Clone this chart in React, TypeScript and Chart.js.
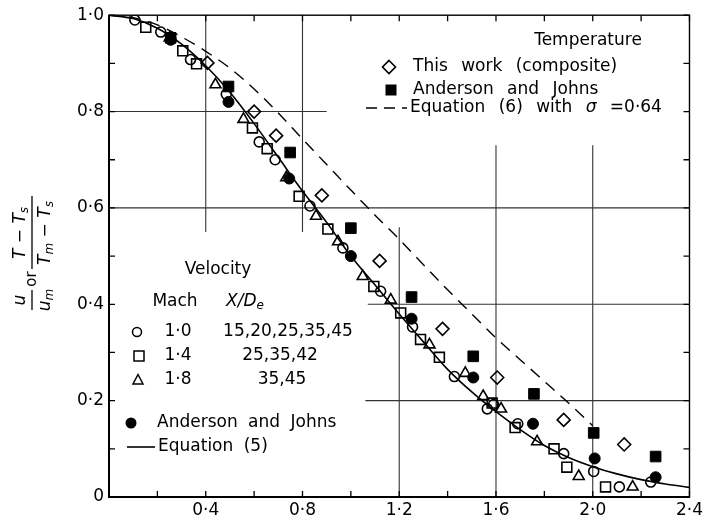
import React, { useEffect, useRef } from 'react';
import { Chart, registerables } from 'chart.js';

Chart.register(...registerables);

// ---- axis ticks ----
const xTickPositions = [0, 0.2, 0.4, 0.6, 0.8, 1.0, 1.2, 1.4, 1.6, 1.8, 2.0, 2.2, 2.4];
const xLabelValues = [0.4, 0.8, 1.2, 1.6, 2.0, 2.4];
const xLabelTexts = ['0·4', '0·8', '1·2', '1·6', '2·0', '2·4'];
const yTickPositions = [0, 0.1, 0.2, 0.3, 0.4, 0.5, 0.6, 0.7, 0.8, 0.9, 1.0];
const yLabelValues = [0, 0.2, 0.4, 0.6, 0.8, 1.0];
const yLabelTexts = ['0', '0·2', '0·4', '0·6', '0·8', '1·0'];

// ---- Equation (5), solid ----
const eq5X = [0, 0.1, 0.2, 0.3, 0.4, 0.5, 0.6, 0.7, 0.8, 0.9, 1.0, 1.1, 1.2, 1.3, 1.4, 1.5, 1.6, 1.7, 1.8, 1.9, 2.0, 2.1, 2.2, 2.3, 2.4];
const eq5Y = [1.0, 0.993, 0.973, 0.94, 0.895, 0.84, 0.775, 0.705, 0.635, 0.57, 0.5, 0.44, 0.38, 0.322, 0.265, 0.218, 0.177, 0.14, 0.107, 0.082, 0.063, 0.048, 0.036, 0.027, 0.02];

// ---- Equation (6) with sigma = 0.64, dashed ----
const eq6X = [0, 0.1, 0.2, 0.3, 0.4, 0.5, 0.6, 0.7, 0.8, 0.9, 1.0, 1.1, 1.2, 1.3, 1.4, 1.5, 1.6, 1.7, 1.8, 1.9, 2.0];
const eq6Y = [1.0, 0.995, 0.98, 0.955, 0.925, 0.89, 0.847, 0.797, 0.743, 0.69, 0.637, 0.585, 0.535, 0.482, 0.43, 0.38, 0.33, 0.285, 0.24, 0.195, 0.148];

// ---- Velocity, Mach 1.0 (open circles) ----
const mach10X = [0.107, 0.214, 0.337, 0.485, 0.621, 0.687, 0.831, 0.967, 1.123, 1.255, 1.428, 1.564, 1.59, 1.69, 1.88, 2.004, 2.11, 2.24];
const mach10Y = [0.99, 0.965, 0.908, 0.836, 0.737, 0.70, 0.604, 0.517, 0.427, 0.353, 0.25, 0.183, 0.192, 0.152, 0.09, 0.053, 0.021, 0.031];

// ---- Velocity, Mach 1.4 (open squares) ----
const mach14X = [0.152, 0.305, 0.362, 0.593, 0.654, 0.786, 0.905, 1.095, 1.206, 1.288, 1.366, 1.584, 1.679, 1.84, 1.893, 2.053];
const mach14Y = [0.975, 0.926, 0.899, 0.766, 0.723, 0.624, 0.556, 0.437, 0.382, 0.327, 0.29, 0.195, 0.144, 0.10, 0.062, 0.021];

// ---- Velocity, Mach 1.8 (open triangles) ----
const mach18X = [0.251, 0.44, 0.556, 0.733, 0.856, 0.947, 1.049, 1.165, 1.325, 1.473, 1.547, 1.621, 1.77, 1.942, 2.165];
const mach18Y = [0.953, 0.856, 0.784, 0.663, 0.583, 0.53, 0.458, 0.409, 0.316, 0.257, 0.209, 0.183, 0.115, 0.043, 0.021];

// ---- Velocity, Anderson and Johns (filled circles) ----
const ajVelX = [0.255, 0.494, 0.745, 1.0, 1.251, 1.506, 1.753, 2.008, 2.26];
const ajVelY = [0.949, 0.82, 0.661, 0.50, 0.37, 0.248, 0.152, 0.08, 0.041];

// ---- Temperature, This work (open diamonds) ----
const twX = [0.407, 0.60, 0.691, 0.88, 1.119, 1.379, 1.605, 1.88, 2.13];
const twY = [0.901, 0.80, 0.75, 0.626, 0.49, 0.349, 0.248, 0.16, 0.109];

// ---- Temperature, Anderson and Johns (filled squares) ----
const ajTempX = [0.255, 0.494, 0.749, 1.0, 1.251, 1.506, 1.757, 2.004, 2.26];
const ajTempY = [0.953, 0.852, 0.715, 0.558, 0.415, 0.292, 0.214, 0.133, 0.084];

const FF = '"DejaVu Sans", sans-serif';
const fBase = `17px ${FF}`;
const fItal = `italic 17px ${FF}`;
const fSub = `italic 12px ${FF}`;

type Run = { t: string; f: string; dy?: number };

function runsWidth(ctx: CanvasRenderingContext2D, runs: Run[]) {
  let w = 0;
  for (const r of runs) {
    ctx.font = r.f;
    w += ctx.measureText(r.t).width;
  }
  return w;
}

function drawRuns(ctx: CanvasRenderingContext2D, runs: Run[], x: number, y: number, align: 'left' | 'center' | 'right' = 'left') {
  const w = runsWidth(ctx, runs);
  let cx = align === 'center' ? x - w / 2 : align === 'right' ? x - w : x;
  ctx.textAlign = 'left';
  ctx.textBaseline = 'middle';
  for (const r of runs) {
    ctx.font = r.f;
    ctx.fillText(r.t, cx, y + (r.dy || 0));
    cx += ctx.measureText(r.t).width;
  }
}

const zip = (xs: number[], ys: number[]) => xs.map((x, i) => ({ x, y: ys[i] }));

const labelFor = (vals: number[], texts: string[], v: number) => {
  const i = vals.findIndex((a) => Math.abs(a - v) < 1e-6);
  return i >= 0 ? texts[i] : '';
};

export default function App() {
  const ref = useRef<HTMLCanvasElement>(null);

  useEffect(() => {
    const canvas = ref.current!;

    const decor = {
      id: 'decor',
      beforeDatasetsDraw(chart: any) {
        const { ctx, chartArea: a, scales } = chart;
        const sx = scales.x;
        const sy = scales.y;
        ctx.save();
        // partial grid lines (as in the hand-drawn original)
        const vGrid = [[0.4, 0.55, 1.0], [0.8, 0.55, 1.0], [1.2, 0, 0.56], [1.6, 0, 0.73], [2.0, 0, 0.73]];
        const hGrid = [[0.8, 0, 0.9], [0.6, 0, 2.4], [0.4, 1.07, 2.4], [0.2, 1.06, 2.4]];
        ctx.strokeStyle = '#333';
        ctx.lineWidth = 1.1;
        for (const [gx, y0, y1] of vGrid) {
          const px = sx.getPixelForValue(gx);
          ctx.beginPath();
          ctx.moveTo(px, sy.getPixelForValue(y0));
          ctx.lineTo(px, sy.getPixelForValue(y1));
          ctx.stroke();
        }
        for (const [gy, x0, x1] of hGrid) {
          const py = sy.getPixelForValue(gy);
          ctx.beginPath();
          ctx.moveTo(sx.getPixelForValue(x0), py);
          ctx.lineTo(sx.getPixelForValue(x1), py);
          ctx.stroke();
        }
        // inward tick marks on all four sides
        ctx.strokeStyle = '#000';
        ctx.lineWidth = 1.3;
        const tl = 6;
        for (const t of sx.ticks) {
          const px = sx.getPixelForValue(t.value);
          ctx.beginPath();
          ctx.moveTo(px, a.bottom);
          ctx.lineTo(px, a.bottom - tl);
          ctx.moveTo(px, a.top);
          ctx.lineTo(px, a.top + tl);
          ctx.stroke();
        }
        for (const t of sy.ticks) {
          const py = sy.getPixelForValue(t.value);
          ctx.beginPath();
          ctx.moveTo(a.left, py);
          ctx.lineTo(a.left + tl, py);
          ctx.moveTo(a.right, py);
          ctx.lineTo(a.right - tl, py);
          ctx.stroke();
        }
        // frame
        ctx.lineWidth = 1.4;
        ctx.strokeRect(a.left, a.top, a.right - a.left, a.bottom - a.top);
        ctx.lineWidth = 2;
        ctx.beginPath();
        ctx.moveTo(a.left, a.top);
        ctx.lineTo(a.left, a.bottom);
        ctx.lineTo(a.right, a.bottom);
        ctx.stroke();
        ctx.restore();
      },
      afterDraw(chart: any) {
        const ctx: CanvasRenderingContext2D = chart.ctx;
        ctx.save();
        ctx.fillStyle = '#000';
        ctx.strokeStyle = '#000';
        (ctx as any).wordSpacing = '8px';

        // ---- Temperature legend (top right) ----
        drawRuns(ctx, [{ t: 'Temperature', f: fBase }], 588, 41, 'center');
        // diamond
        ctx.lineWidth = 1.6;
        ctx.beginPath();
        ctx.moveTo(389, 67 - 6.5);
        ctx.lineTo(389 + 6.5, 67);
        ctx.lineTo(389, 67 + 6.5);
        ctx.lineTo(389 - 6.5, 67);
        ctx.closePath();
        ctx.stroke();
        drawRuns(ctx, [{ t: 'This work (composite)', f: fBase }], 413, 67);
        // filled square
        ctx.fillRect(391 - 5.5, 90 - 5.5, 11, 11);
        drawRuns(ctx, [{ t: 'Anderson and Johns', f: fBase }], 413, 90);
        // dashed sample
        ctx.lineWidth = 1.5;
        ctx.setLineDash([11, 7]);
        ctx.beginPath();
        ctx.moveTo(366, 108);
        ctx.lineTo(407, 108);
        ctx.stroke();
        ctx.setLineDash([]);
        drawRuns(ctx, [{ t: 'Equation (6) with ', f: fBase }, { t: 'σ', f: fItal }, { t: ' =0·64', f: fBase }], 410, 108);

        // ---- Velocity legend (left) ----
        (ctx as any).wordSpacing = '5px';
        drawRuns(ctx, [{ t: 'Velocity', f: fBase }], 218, 270, 'center');
        drawRuns(ctx, [{ t: 'Mach', f: fBase }], 175, 302, 'center');
        drawRuns(ctx, [{ t: 'X/D', f: fItal }, { t: 'e', f: fSub, dy: 4 }], 245, 302, 'center');
        ctx.lineWidth = 1.5;
        // circle
        ctx.beginPath();
        ctx.arc(137, 332, 4.5, 0, Math.PI * 2);
        ctx.stroke();
        drawRuns(ctx, [{ t: '1·0', f: fBase }], 178, 332, 'center');
        drawRuns(ctx, [{ t: '15,20,25,35,45', f: fBase }], 288, 332, 'center');
        // square
        ctx.strokeRect(139 - 5, 356 - 5, 10, 10);
        drawRuns(ctx, [{ t: '1·4', f: fBase }], 178, 356, 'center');
        drawRuns(ctx, [{ t: '25,35,42', f: fBase }], 280, 356, 'center');
        // triangle
        ctx.beginPath();
        ctx.moveTo(138, 380 - 5.5);
        ctx.lineTo(138 + 5, 380 + 4);
        ctx.lineTo(138 - 5, 380 + 4);
        ctx.closePath();
        ctx.stroke();
        drawRuns(ctx, [{ t: '1·8', f: fBase }], 178, 380, 'center');
        drawRuns(ctx, [{ t: '35,45', f: fBase }], 282, 380, 'center');
        // filled circle
        ctx.beginPath();
        ctx.arc(131, 423, 5.5, 0, Math.PI * 2);
        ctx.fill();
        drawRuns(ctx, [{ t: 'Anderson and Johns', f: fBase }], 157, 423);
        // solid line sample
        ctx.lineWidth = 1.6;
        ctx.beginPath();
        ctx.moveTo(127, 447);
        ctx.lineTo(155, 447);
        ctx.stroke();
        drawRuns(ctx, [{ t: 'Equation (5)', f: fBase }], 158, 447);

        // ---- Y axis title (rotated fractions) ----
        (ctx as any).wordSpacing = '0px';
        ctx.translate(32, 253);
        ctx.rotate(-Math.PI / 2);
        ctx.lineWidth = 1.3;
        drawRuns(ctx, [{ t: 'T − T', f: fItal }, { t: 's', f: fSub, dy: 4 }], 20, -11, 'center');
        drawRuns(ctx, [{ t: 'T', f: fItal }, { t: 'm', f: fSub, dy: 4 }, { t: ' − T', f: fItal }, { t: 's', f: fSub, dy: 4 }], 20, 14, 'center');
        ctx.beginPath();
        ctx.moveTo(-16, 0);
        ctx.lineTo(57, 0);
        ctx.stroke();
        drawRuns(ctx, [{ t: 'or', f: `15px ${FF}` }], -26, 0, 'center');
        drawRuns(ctx, [{ t: 'u', f: fItal }], -47, -11, 'center');
        drawRuns(ctx, [{ t: 'u', f: fItal }, { t: 'm', f: fSub, dy: 4 }], -47, 14, 'center');
        ctx.beginPath();
        ctx.moveTo(-57, 0);
        ctx.lineTo(-37, 0);
        ctx.stroke();
        ctx.restore();
      },
    };

    const openPts = (label: string, xs: number[], ys: number[], style: string, r: number) => ({
      label,
      data: zip(xs, ys),
      showLine: false,
      pointStyle: style,
      pointRadius: r,
      pointHoverRadius: r,
      pointBorderWidth: 1.6,
      borderColor: '#000',
      backgroundColor: 'rgba(0,0,0,0)',
      order: 1,
    });
    const filledPts = (label: string, xs: number[], ys: number[], style: string, r: number) => ({
      label,
      data: zip(xs, ys),
      showLine: false,
      pointStyle: style,
      pointRadius: r,
      pointHoverRadius: r,
      pointBorderWidth: 1,
      borderColor: '#000',
      backgroundColor: '#000',
      order: 1,
    });

    const chart = new Chart(canvas, {
      type: 'scatter',
      data: {
        datasets: [
          {
            label: 'Equation (5)',
            data: zip(eq5X, eq5Y),
            showLine: true,
            borderColor: '#000',
            borderWidth: 1.6,
            pointRadius: 0,
            cubicInterpolationMode: 'monotone',
            order: 10,
          } as any,
          {
            label: 'Equation (6) with σ = 0·64',
            data: zip(eq6X, eq6Y),
            showLine: true,
            borderColor: '#000',
            borderWidth: 1.4,
            borderDash: [12, 8],
            pointRadius: 0,
            cubicInterpolationMode: 'monotone',
            order: 10,
          } as any,
          openPts('Mach 1·0', mach10X, mach10Y, 'circle', 5),
          openPts('Mach 1·4', mach14X, mach14Y, 'rect', 7),
          openPts('Mach 1·8', mach18X, mach18Y, 'triangle', 6.3),
          openPts('This work (composite)', twX, twY, 'rectRot', 6.5),
          filledPts('Anderson and Johns (velocity)', ajVelX, ajVelY, 'circle', 5.5),
          filledPts('Anderson and Johns (temperature)', ajTempX, ajTempY, 'rect', 7.5),
        ] as any,
      },
      options: {
        animation: false,
        responsive: false,
        layout: { padding: { top: 10, right: 14, left: 0, bottom: 0 } },
        plugins: { legend: { display: false }, tooltip: { enabled: false } },
        scales: {
          x: {
            type: 'linear',
            min: 0,
            max: 2.4,
            afterBuildTicks: (s: any) => {
              s.ticks = xTickPositions.map((v) => ({ value: v }));
            },
            afterFit: (s: any) => {
              s.height = 26;
            },
            grid: { display: false, drawTicks: false },
            border: { display: false },
            ticks: {
              autoSkip: false,
              maxRotation: 0,
              padding: 3,
              color: '#000',
              font: { family: FF, size: 17 },
              callback: (v: any) => labelFor(xLabelValues, xLabelTexts, Number(v)),
            },
          },
          y: {
            type: 'linear',
            min: 0,
            max: 1.0,
            afterBuildTicks: (s: any) => {
              s.ticks = yTickPositions.map((v) => ({ value: v }));
            },
            afterFit: (s: any) => {
              s.width = 109;
            },
            grid: { display: false, drawTicks: false },
            border: { display: false },
            ticks: {
              autoSkip: false,
              padding: 5,
              color: '#000',
              font: { family: FF, size: 17 },
              callback: (v: any) => labelFor(yLabelValues, yLabelTexts, Number(v)),
            },
          },
        },
      } as any,
      plugins: [decor],
    });

    return () => chart.destroy();
  }, []);

  return (
    <div style={{ position: 'absolute', left: 0, top: 0, width: 706, height: 523, background: '#fff' }}>
      <canvas ref={ref} width={706} height={523} style={{ width: 706, height: 523, display: 'block' }} />
    </div>
  );
}
